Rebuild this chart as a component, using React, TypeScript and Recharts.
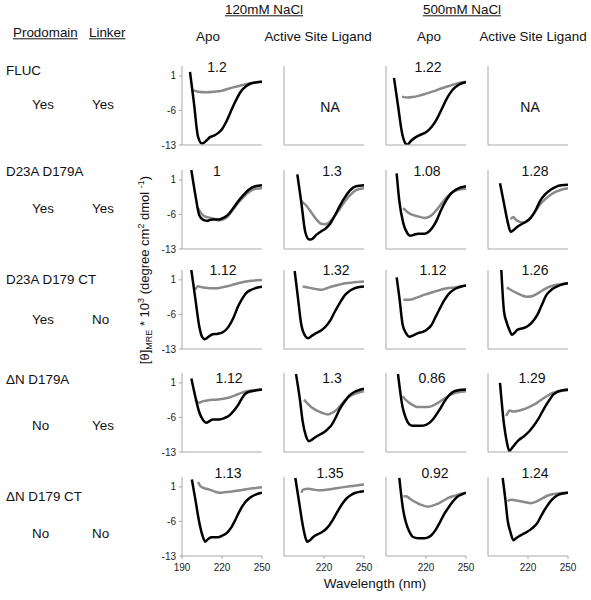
import React from "react";
import { LineChart, Line, XAxis, YAxis } from "recharts";

type Pt = [number, number];
type Row = (Pt[] | null)[];

const salts = ["120mM NaCl", "500mM NaCl"];
const conditions = ["Apo", "Active Site Ligand", "Apo", "Active Site Ligand"];
const constructs = ["FLUC", "D23A D179A", "D23A D179 CT", "ΔN D179A", "ΔN D179 CT"];
const prodomain = ["Yes", "Yes", "Yes", "No", "No"];
const linker = ["Yes", "Yes", "No", "Yes", "No"];
const ratios = [
  ["1.2", "NA", "1.22", "NA"],
  ["1", "1.3", "1.08", "1.28"],
  ["1.12", "1.32", "1.12", "1.26"],
  ["1.12", "1.3", "0.86", "1.29"],
  ["1.13", "1.35", "0.92", "1.24"],
];
const yTicks = [1, -6, -13];
const xTicks = [190, 220, 250];

// black traces, [wavelength nm, value]; columns: 120 apo, 120 ligand, 500 apo, 500 ligand
const flucDark: Row = [
  [[196, 1.8], [199, -4.6], [202, -11.3], [205, -12.7], [208, -12.2], [211, -11.4], [214, -11.1], [217, -10.6], [220, -9.8], [223, -8.4], [226, -6.6], [230, -4.2], [234, -2.2], [238, -1.1], [242, -0.5], [246, -0.3], [250, -0.2]],
  null,
  [[196, 0.6], [199, -5], [202, -10.5], [205, -12.8], [206, -12.9], [209, -12.1], [213, -11.3], [217, -10.8], [220, -10.4], [224, -9.4], [228, -7.8], [232, -5.6], [236, -3.4], [240, -1.8], [244, -0.9], [247, -0.5], [250, -0.3]],
  null,
];
const d23aD179aDark: Row = [
  [[197, 3.0], [200, -2], [203, -6.2], [206, -7.1], [209, -7.3], [211, -7.1], [213, -7.0], [218, -7.0], [221, -6.7], [224, -6.2], [228, -4.9], [232, -3.4], [236, -2.1], [240, -1.0], [245, -0.3], [250, -0.1]],
  [[200, 2.1], [203, -3.6], [206, -9.6], [209, -11.1], [211, -11.0], [214, -10.2], [218, -9.4], [221, -8.9], [224, -8.1], [228, -6.3], [232, -4.2], [236, -2.4], [240, -1.0], [244, -0.3], [250, -0.1]],
  [[198, 2.3], [200, -3.3], [203, -7.8], [206, -9.8], [208, -10.3], [211, -10.1], [214, -9.9], [219, -9.9], [222, -9.5], [225, -8.6], [228, -7.2], [231, -5.3], [235, -3.2], [239, -1.7], [243, -0.9], [250, -0.3]],
  [[199, 0.3], [202, -3.8], [205, -7.8], [207, -9.5], [209, -9.2], [212, -8.5], [217, -7.7], [222, -6.7], [226, -5.0], [229, -3.3], [233, -1.9], [237, -1.0], [241, -0.4], [245, -0.1], [250, 0]],
];
const d23aD179ctDark: Row = [
  [[197, 3.0], [200, -2.8], [203, -8.5], [205, -10.5], [207, -11.0], [210, -10.5], [213, -10.0], [217, -9.9], [220, -9.7], [223, -9.1], [226, -8.0], [229, -6.4], [232, -4.4], [235, -2.9], [238, -1.7], [242, -1.0], [246, -0.6], [250, -0.4]],
  [[198, 2.8], [200, -1.6], [203, -8.1], [206, -10.4], [208, -10.8], [211, -10.3], [214, -9.8], [218, -9.2], [221, -8.5], [225, -7.1], [228, -5.5], [232, -3.6], [236, -2.0], [240, -1.1], [244, -0.6], [250, -0.35]],
  [[198, 1.5], [200, -2.5], [202.5, -8.1], [205, -9.8], [207.5, -10.5], [210, -10.3], [214, -9.8], [218, -9.5], [221, -9.0], [224, -8.2], [227, -6.6], [230, -5.0], [234, -3.0], [238, -1.6], [242, -0.8], [246, -0.4], [250, -0.15]],
  [[200, 3.0], [202, -5.4], [204, -7.6], [206, -9.1], [208, -10.1], [210, -9.7], [212, -9.1], [216, -8.8], [219, -8.5], [223, -7.6], [227, -6.1], [230, -4.3], [234, -2.0], [238, -0.9], [242, -0.3], [246, 0.1], [250, 0.3]],
];
const dnD179aDark: Row = [
  [[197, 1.9], [200, -1.8], [203, -5.0], [206, -6.6], [208, -7.1], [211, -6.7], [213, -6.4], [218, -6.4], [222, -6.1], [225, -5.7], [229, -4.6], [232, -3.5], [235, -2.1], [238, -1.1], [242, -0.7], [246, -0.5], [250, -0.35]],
  [[199, 2.8], [202, -2.5], [204, -6.8], [206.5, -9.8], [208.7, -10.8], [211, -10.5], [213, -10.1], [216, -9.6], [220, -9.0], [223, -8.3], [226, -7.4], [229, -5.9], [232, -4.2], [236, -2.6], [239, -1.6], [243, -0.8], [247, -0.4], [250, -0.2]],
  [[199, 2.8], [202.5, -4.0], [205, -6.2], [207.5, -7.4], [210, -7.7], [216, -7.7], [220, -7.5], [223, -7.0], [226, -6.1], [230, -4.5], [234, -2.7], [237, -1.6], [241, -0.7], [245, -0.45], [250, -0.35]],
  [[199, 1.0], [202, -7.4], [204, -10.8], [206, -12.8], [208, -12.2], [210, -11.5], [213, -10.6], [217, -9.8], [221, -8.8], [224, -7.8], [228, -6.2], [232, -4.2], [236, -2.5], [239, -1.35], [242, -0.8], [245, -0.55], [250, -0.35]],
];
const dnD179ctDark: Row = [
  [[197.4, 2.5], [200, -1.5], [202.6, -5.7], [205.3, -8.8], [207.4, -10.1], [209, -9.7], [212, -9.2], [217, -9.2], [220, -8.9], [223.7, -8.3], [227, -7.2], [230, -5.7], [233, -4.0], [236.8, -2.3], [240, -1.4], [243.4, -0.8], [247, -0.4], [250, -0.2]],
  [[198.5, 2.8], [201, -1.5], [204.3, -7.1], [206, -9.2], [207.5, -10.1], [209.5, -9.8], [211.7, -9.2], [216.8, -8.4], [220, -7.9], [223, -7.1], [227, -5.5], [231, -3.6], [234, -2.3], [237.3, -1.25], [240, -0.7], [243.7, -0.2], [247, 0], [250, 0.1]],
  [[200, 2.8], [202.5, -3.0], [204, -5.2], [206, -7.1], [208, -8.3], [210, -9.1], [214, -9.4], [219, -9.4], [222, -9.2], [224, -8.8], [227, -7.8], [230, -6.4], [233, -4.8], [236.6, -3.3], [240, -2.0], [244, -0.9], [247, -0.5], [250, -0.2]],
  [[201, 2.8], [203, -1.5], [204.7, -5.7], [207, -8.3], [209, -9.8], [211, -9.4], [213.3, -9.0], [216, -8.6], [219.4, -8.1], [223, -7.4], [226.8, -6.4], [230, -4.8], [234, -3.0], [238, -1.6], [241.5, -0.8], [245, -0.4], [250, -0.2]],
];

// grey traces
const flucLight: Row = [
  [[198, -1.9], [202, -2.2], [208, -2.3], [214, -2.2], [220, -2], [226, -1.5], [232, -1.1], [238, -0.7], [244, -0.4], [250, -0.2]],
  null,
  [[202, -3.2], [206, -3.4], [210, -3.3], [215, -3.0], [220, -2.6], [226, -2.1], [232, -1.5], [238, -1.0], [244, -0.5], [250, -0.2]],
  null,
];
const d23aD179aLight: Row = [
  [[202, -4.7], [204, -5.6], [207, -6.4], [210, -6.6], [213, -6.8], [218, -7.2], [221, -7.0], [224, -6.5], [228, -5.1], [232, -3.7], [236, -2.5], [240, -1.5], [245, -0.8], [250, -0.7]],
  [[203, -3.3], [207, -4.3], [210, -5.4], [214, -6.9], [218, -7.9], [221, -8.0], [224, -7.6], [228, -6.3], [232, -4.8], [236, -3.2], [240, -2.0], [244, -1.1], [250, -0.7]],
  [[203, -4.7], [206, -5.5], [209, -6.0], [214, -6.4], [219, -6.7], [223, -6.4], [226, -5.7], [230, -4.4], [234, -3.0], [238, -1.9], [242, -1.2], [250, -0.8]],
  [[207, -7.0], [209, -6.5], [210, -6.8], [212, -7.3], [217, -7.7], [222, -6.7], [226, -5.2], [229, -4.0], [233, -2.9], [237, -2.0], [241, -1.4], [245, -1.0], [250, -0.7]],
];
const d23aD179ctLight: Row = [
  [[200, -1.0], [202, -0.3], [205, -0.5], [208, -0.6], [212, -0.7], [216, -0.7], [220, -0.5], [224, -0.3], [228, 0], [232, 0.3], [237, 0.6], [242, 0.8], [246, 0.9], [250, 1.0]],
  [[204, -0.35], [207, -0.5], [211, -0.7], [215, -0.9], [218, -1.0], [222, -0.7], [226, -0.35], [231, 0], [236, 0.3], [242, 0.5], [250, 0.65]],
  [[203, -3.05], [207.5, -3.05], [213, -2.6], [219, -2.0], [225, -1.5], [231, -1.0], [236, -0.7], [241, -0.55], [246, -0.3], [250, -0.15]],
  [[204, -0.55], [207, -1.0], [211, -1.6], [215, -2.1], [219, -2.4], [223, -2.3], [227, -1.8], [231, -1.1], [235, -0.5], [240, -0.1], [245, 0.1], [250, 0.3]],
];
const dnD179aLight: Row = [
  [[200, -2.4], [202.5, -3.0], [206, -2.7], [210, -2.5], [215, -2.4], [221, -2.2], [226, -1.9], [231, -1.4], [236, -0.9], [242, -0.55], [250, -0.35]],
  [[205, -2.4], [207, -3.0], [210.8, -4.0], [214, -4.5], [218.4, -5.05], [223, -5.4], [226, -5.1], [230, -4.3], [233, -3.4], [236, -2.4], [240, -1.6], [244, -1.1], [250, -0.7]],
  [[202.5, -1.7], [205, -2.5], [207.5, -3.05], [211, -3.6], [214, -3.9], [221, -3.9], [225, -3.6], [229, -3.05], [233, -2.3], [236.5, -1.7], [240, -1.2], [244, -0.9], [250, -0.7]],
  [[203.5, -5.7], [205, -5.0], [206, -4.6], [209, -4.8], [212, -4.7], [216, -4.4], [219.4, -4.05], [223, -3.6], [226.8, -3.05], [230, -2.4], [234, -1.7], [238, -1.1], [241.5, -0.8], [246, -0.6], [250, -0.5]],
];
const dnD179ctLight: Row = [
  [[202, 2.0], [204, 1.1], [207, 0.7], [210.5, 0.45], [214, 0.1], [218.4, -0.2], [222, -0.1], [226, 0], [231, 0.2], [236.8, 0.45], [243, 0.7], [250, 0.9]],
  [[203, -0.2], [204.3, 0.45], [208, 0.6], [212, 0.45], [216, 0.3], [220, 0.35], [223.4, 0.45], [229, 0.7], [236, 1.0], [243, 1.25], [250, 1.5]],
  [[203, -0.9], [205, -0.9], [209, -1.6], [213, -2.2], [216, -2.6], [221.6, -3.0], [225, -2.8], [229, -2.4], [233, -1.8], [236.6, -1.25], [240, -0.9], [244, -0.6], [250, -0.2]],
  [[204.7, -1.9], [207, -1.6], [210, -1.7], [214.5, -1.9], [218, -2.1], [222, -2.3], [226, -2.0], [229, -1.6], [233, -1.0], [236.6, -0.6], [242, -0.35], [250, -0.2]],
];

const darkRows = [flucDark, d23aD179aDark, d23aD179ctDark, dnD179aDark, dnD179ctDark];
const lightRows = [flucLight, d23aD179aLight, d23aD179ctLight, dnD179aLight, dnD179ctLight];

// layout (page px)
const FONT = "'Liberation Sans', Arial, sans-serif";
const COL_LEFT = [182, 284, 386, 488];
const ROW_TOP = [66, 170, 270, 373, 477];
const PLOT_W = 80;
const PLOT_H = 79;
const RATIO_X = [
  [217, 330, 428, 530],
  [217, 332, 427, 535],
  [223, 336, 433, 535],
  [229, 332, 432, 532],
  [228, 330, 435, 535],
];
const RATIO_Y = [67, 171, 270, 378, 473];
const LABEL_Y = [71, 172, 280, 380, 497];
const YESNO_Y = [105, 209, 320, 426, 534];

const AXIS = "#a8a8a8";
const DARK = "#000000";
const LIGHT = "#8a8a8a";

const toXY = (pts: Pt[]) => pts.map(([x, y]) => ({ x, y }));

const Txt = ({ x, y, children, size = 13.4, center = true, underline = false }: any) => (
  <div
    style={{
      position: "absolute",
      left: x,
      top: y,
      transform: center ? "translate(-50%, -50%)" : "translate(0, -50%)",
      whiteSpace: "nowrap",
      fontFamily: FONT,
      fontSize: size,
      lineHeight: 1,
      color: "#111",
      textDecoration: underline ? "underline" : "none",
    }}
  >
    {children}
  </div>
);

function Panel({ row, col }: { row: number; col: number }) {
  const dark = darkRows[row][col];
  const light = lightRows[row][col];
  const bottom = row === constructs.length - 1;
  const first = col === 0;
  const tickStyle = { fontSize: 10, fill: "#222", fontFamily: FONT };
  return (
    <div style={{ position: "absolute", left: COL_LEFT[col] - 30, top: ROW_TOP[row] - 6 }}>
      <LineChart width={30 + PLOT_W + 10} height={6 + PLOT_H + 25} margin={{ top: 6, right: 10, bottom: 0, left: 0 }}>
        <XAxis
          type="number"
          dataKey="x"
          domain={[190, 250]}
          allowDataOverflow
          ticks={bottom && !first ? xTicks.slice(1) : xTicks}
          height={25}
          stroke={AXIS}
          tickSize={3}
          tickMargin={5}
          tick={bottom ? tickStyle : false}
        />
        <YAxis
          type="number"
          dataKey="y"
          domain={[-13, 3]}
          allowDataOverflow
          ticks={yTicks}
          width={30}
          stroke={AXIS}
          tickSize={3}
          tickMargin={3}
          tick={first ? tickStyle : false}
        />
        {light && (
          <Line data={toXY(light)} dataKey="y" type="monotone" stroke={LIGHT} strokeWidth={2.5} dot={false} isAnimationActive={false} />
        )}
        {dark && (
          <Line data={toXY(dark)} dataKey="y" type="monotone" stroke={DARK} strokeWidth={2.5} dot={false} isAnimationActive={false} />
        )}
      </LineChart>
    </div>
  );
}

export default function App() {
  const sub = { fontSize: 9, verticalAlign: "-3px" };
  const sup = { fontSize: 9, verticalAlign: "5px" };
  return (
    <div style={{ position: "absolute", left: 0, top: 0, width: 591, height: 600, background: "#fff" }}>
      <Txt x={264} y={10} underline>{salts[0]}</Txt>
      <Txt x={462} y={10} underline>{salts[1]}</Txt>
      {conditions.map((c, i) => (
        <Txt key={i} x={[208, 318, 429, 533][i]} y={37}>{c}</Txt>
      ))}
      <Txt x={13} y={33} center={false} underline>Prodomain</Txt>
      <Txt x={89} y={33} center={false} underline>Linker</Txt>
      {constructs.map((c, r) => (
        <React.Fragment key={r}>
          <Txt x={6} y={LABEL_Y[r]} center={false}>{c}</Txt>
          <Txt x={32} y={YESNO_Y[r]} center={false}>{prodomain[r]}</Txt>
          <Txt x={92} y={YESNO_Y[r]} center={false}>{linker[r]}</Txt>
        </React.Fragment>
      ))}
      {constructs.map((_, r) =>
        conditions.map((__, c) => <Panel key={`${r}-${c}`} row={r} col={c} />)
      )}
      {ratios.map((row, r) =>
        row.map((v, c) => (
          <Txt key={`t${r}-${c}`} x={RATIO_X[r][c]} y={v === "NA" ? 107 : RATIO_Y[r]} size={14}>{v}</Txt>
        ))
      )}
      <div
        style={{
          position: "absolute",
          left: 145,
          top: 270,
          transform: "translate(-50%, -50%) rotate(-90deg)",
          whiteSpace: "nowrap",
          fontFamily: FONT,
          fontSize: 13,
          lineHeight: 1,
          color: "#111",
        }}
      >
        [θ]<span style={sub}>MRE</span> * 10<span style={sup}>3</span> (degree cm<span style={sup}>2</span> dmol <span style={sup}>-1</span>)
      </div>
      <Txt x={375} y={584} size={13.5}>Wavelength (nm)</Txt>
    </div>
  );
}
